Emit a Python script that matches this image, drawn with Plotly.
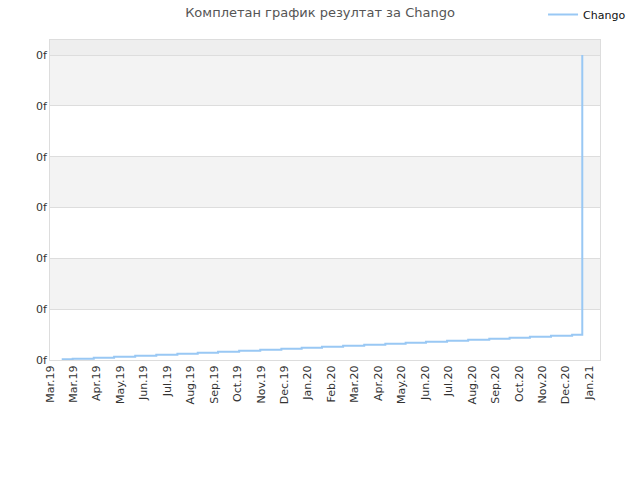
import plotly.graph_objects as go

# step dates and cumulative values
dates = ["2019-03-16", "2019-03-30", "2019-04-26", "2019-05-22", "2019-06-18",
         "2019-07-15", "2019-08-11", "2019-09-06", "2019-10-02", "2019-10-29",
         "2019-11-25", "2019-12-22", "2020-01-17", "2020-02-12", "2020-03-10",
         "2020-04-06", "2020-05-03", "2020-05-29", "2020-06-24", "2020-07-21",
         "2020-08-17", "2020-09-13", "2020-10-09", "2020-11-04", "2020-12-01",
         "2020-12-28", "2021-01-10"]
values = [0.7, 1.3, 2.3, 3.2, 4.2, 5.2, 6.2, 7.2, 8.2, 9.1,
          10.2, 11.1, 12.1, 13.1, 14.1, 15.0, 16.0, 17.0, 18.0, 19.0,
          20.0, 21.0, 21.9, 22.9, 23.9, 24.9, 300]

y_ticks = [0, 50, 100, 150, 200, 250, 300]
y_labels = ["0f"] * len(y_ticks)
y_max = 314.8
x_range = ["2019-03-01", "2021-02-01 16:00"]

title = "Комплетан график резултат за Chango"
series_name = "Chango"

fig = go.Figure()
fig.add_trace(go.Scatter(x=dates, y=values, mode="lines", name=series_name,
                         line=dict(color="#99c8f4", width=2, shape="hv")))

# alternating background bands
bands = [(250, 300, "#f3f3f3"), (150, 200, "#f3f3f3"), (50, 100, "#f3f3f3"),
         (300, y_max, "#eeeeee")]
for y0, y1, c in bands:
    fig.add_shape(type="rect", xref="paper", x0=0, x1=1, y0=y0, y1=y1,
                  fillcolor=c, line_width=0, layer="below")

fig.update_layout(
    width=640, height=480,
    margin=dict(l=50, r=40, t=40, b=120, autoexpand=False),
    paper_bgcolor="white", plot_bgcolor="white",
    font=dict(family="DejaVu Sans", size=11, color="#333333"),
    title=dict(text=title, x=0.5, xanchor="center", y=0.975, yanchor="middle",
               font=dict(size=13, color="#555555")),
    showlegend=True,
    legend=dict(x=0.8485, xref="container", y=1.02, yref="container",
                xanchor="left", yanchor="top", bgcolor="rgba(0,0,0,0)",
                font=dict(size=11, color="#111111")),
)
fig.update_xaxes(type="date", range=x_range, tick0="2019-03-01",
                 dtick=30 * 86400000, tickformat="%b.%y", tickangle=-90,
                 showgrid=False, showline=True, linecolor="#dddddd",
                 mirror=True, zeroline=False, ticks="")
fig.update_yaxes(range=[0, y_max], tickvals=y_ticks, ticktext=y_labels,
                 showgrid=True, gridcolor="#dddddd", showline=True,
                 linecolor="#dddddd", mirror=True, zeroline=False, ticks="")

# drop the browser's default body margin so the chart sits at the page corner
fig.write_html("out.html", config={"displayModeBar": False},
               post_script="document.body.style.margin='0';")
